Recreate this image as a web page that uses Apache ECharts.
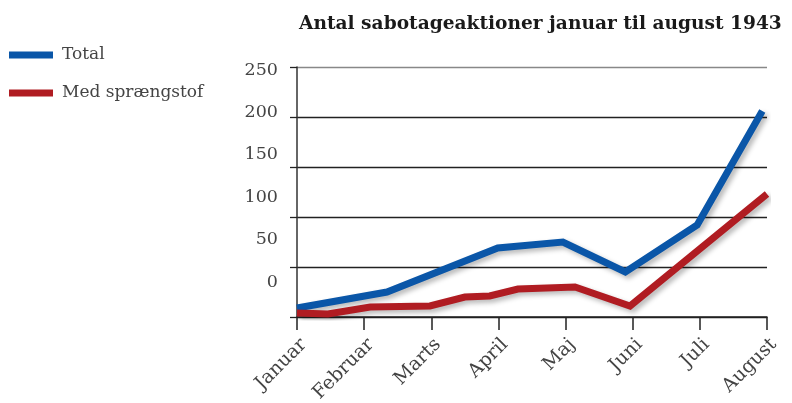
<!DOCTYPE html>
<html>
<head>
<meta charset="utf-8">
<script src="https://cdn.jsdelivr.net/npm/echarts@6/dist/echarts.min.js"></script>
<style>html,body{margin:0;padding:0;background:#fff}#c{width:792px;height:403px}</style>
</head>
<body>
<div id="c"></div>
<script>
var months = ['Januar','Februar','Marts','April','Maj','Juni','Juli','August'];
var yTickLabels = [0, 50, 100, 150, 200, 250];
// [month position, value]
var totalData = [[0, 9], [1.34, 25], [2.99, 69], [3.96, 75], [4.89, 45], [5.96, 92], [6.93, 206]];
var sprengData = [[0, 4], [0.46, 3], [1.09, 10], [1.98, 11], [2.5, 20], [2.87, 21], [3.29, 28], [4.14, 30], [4.96, 11], [7, 123]];

var chart = echarts.init(document.getElementById('c'), null, {renderer: 'canvas'});
var font = 'DejaVu Serif';
var shadow = {shadowColor: 'rgba(0,0,0,0.28)', shadowBlur: 5, shadowOffsetX: 3, shadowOffsetY: 3};
chart.setOption({
  animation: false,
  title: {
    text: 'Antal sabotageaktioner januar til august 1943',
    left: 294, top: 10,
    textStyle: {fontFamily: font, fontWeight: 'bold', fontSize: 18.6, color: '#1a1a1a'}
  },
  legend: {
    orient: 'vertical', left: 4, top: 40,
    icon: 'rect', itemWidth: 44, itemHeight: 7, itemGap: 18,
    textStyle: {fontFamily: font, fontSize: 17, color: '#444', lineHeight: 20, padding: [0, 0, 0, 4]},
    data: ['Total', 'Med sprængstof']
  },
  grid: {left: 297, right: 25, top: 67, bottom: 86, containLabel: false, outerBoundsMode: 'none'},
  xAxis: {
    type: 'value', min: 0, max: 7, interval: 1,
    axisLine: {show: true, lineStyle: {color: '#222', width: 1.5}},
    axisTick: {show: true, length: 13, lineStyle: {color: '#222', width: 1.5}},
    splitLine: {show: false},
    axisLabel: {
      rotate: 45, margin: 18, verticalAlign: 'top', align: 'right',
      fontFamily: font, fontSize: 19, color: '#444',
      formatter: function (v) { return months[Math.round(v)] || ''; }
    }
  },
  yAxis: [{
    type: 'value', min: 0, max: 250, interval: 50, position: 'left',
    axisLine: {show: true, lineStyle: {color: '#333', width: 1.5}},
    axisTick: {show: true, length: 7, lineStyle: {color: '#222', width: 1.3}},
    axisLabel: {show: false},
    splitLine: {show: true, lineStyle: {color: ['#222', '#222', '#222', '#222', '#222', '#888'], width: 1.3}}
  }, {
    type: 'value', min: -41.27, max: 253.5, position: 'left', offset: 0, alignTicks: false,
    axisLine: {show: false}, axisTick: {show: false}, splitLine: {show: false},
    axisLabel: {customValues: yTickLabels, margin: 19, fontFamily: font, fontSize: 17.5, color: '#444'}
  }],
  series: [{
    name: 'Total', type: 'line', data: totalData, symbol: 'none', color: '#0a56a8',
    lineStyle: Object.assign({width: 7, color: '#0a56a8', join: 'miter', cap: 'butt'}, shadow)
  }, {
    name: 'Med sprængstof', type: 'line', data: sprengData, symbol: 'none', color: '#b01c22',
    lineStyle: Object.assign({width: 7, color: '#b01c22', join: 'miter', cap: 'butt'}, shadow)
  }]
});
</script>
</body>
</html>
